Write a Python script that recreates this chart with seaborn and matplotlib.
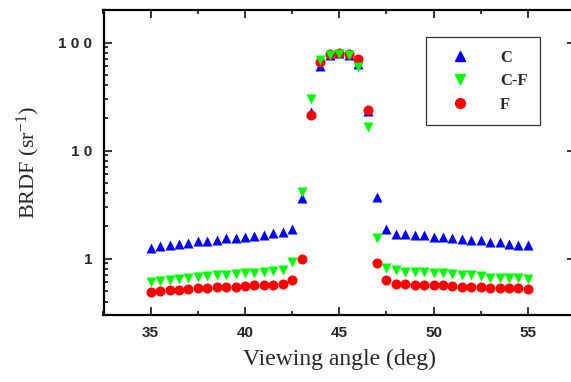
import pandas as pd
import matplotlib.pyplot as plt
import matplotlib.ticker as mticker
from matplotlib.lines import Line2D
import seaborn as sns
import numpy as np

# viewing angles (deg), 35 .. 55 in 0.5 steps
angle = [35.0, 35.5, 36.0, 36.5, 37.0, 37.5, 38.0, 38.5, 39.0, 39.5,
         40.0, 40.5, 41.0, 41.5, 42.0, 42.5, 43.0, 43.5, 44.0, 44.5,
         45.0, 45.5, 46.0, 46.5, 47.0, 47.5, 48.0, 48.5, 49.0, 49.5,
         50.0, 50.5, 51.0, 51.5, 52.0, 52.5, 53.0, 53.5, 54.0, 54.5, 55.0]

brdf_c = [1.25, 1.30, 1.34, 1.37, 1.38, 1.44, 1.46, 1.49, 1.54, 1.55,
          1.58, 1.60, 1.64, 1.71, 1.77, 1.88, 3.62, 22.6, 61.0, 76.0,
          80.0, 77.0, 63.0, 23.0, 3.70, 1.88, 1.70, 1.70, 1.64, 1.64,
          1.58, 1.59, 1.56, 1.53, 1.47, 1.47, 1.42, 1.42, 1.37, 1.33, 1.33]

brdf_cf = [0.600, 0.614, 0.637, 0.641, 0.665, 0.673, 0.688, 0.708, 0.708, 0.717,
           0.733, 0.733, 0.743, 0.760, 0.787, 0.930, 4.16, 30.1, 68.7, 76.9,
           79.0, 77.0, 58.8, 16.5, 1.55, 0.821, 0.780, 0.754, 0.754, 0.754,
           0.728, 0.728, 0.713, 0.710, 0.697, 0.683, 0.665, 0.665, 0.665, 0.665, 0.641]

brdf_f = [0.490, 0.505, 0.508, 0.508, 0.526, 0.530, 0.530, 0.549, 0.549, 0.549,
          0.553, 0.565, 0.565, 0.569, 0.585, 0.627, 0.980, 21.1, 66.7, 78.0,
          80.7, 78.0, 70.2, 23.5, 0.913, 0.627, 0.585, 0.576, 0.565, 0.565,
          0.565, 0.565, 0.556, 0.549, 0.549, 0.549, 0.537, 0.537, 0.530, 0.530, 0.526]

series = ["C", "C-F", "F"]
colors = {"C": "#0000ff", "C-F": "#00ff00", "F": "#ff0000"}
markers = {"C": "^", "C-F": "v", "F": "o"}

df = pd.DataFrame({
    "angle": angle * 3,
    "brdf": brdf_c + brdf_cf + brdf_f,
    "sample": ["C"] * len(angle) + ["C-F"] * len(angle) + ["F"] * len(angle),
})

sns.set_style("ticks")
plt.rcParams['font.family'] = ['Liberation Serif', 'DejaVu Serif']
plt.rcParams['mathtext.fontset'] = 'custom'
plt.rcParams['mathtext.rm'] = 'Liberation Serif'
plt.rcParams['mathtext.it'] = 'Liberation Serif:italic'

fig = plt.figure(figsize=(5.71, 3.82), dpi=100)
ax = fig.add_axes([103.5 / 571, 67 / 382, (575 - 103.5) / 571, 305 / 382])

# draw C, then F, then C-F on top
z = {"C": 2, "F": 3, "C-F": 4}
for s in ["C", "F", "C-F"]:
    sns.scatterplot(data=df[df["sample"] == s], x="angle", y="brdf", ax=ax,
                    color=colors[s], marker=markers[s], s=52, linewidth=0,
                    zorder=z[s], legend=False)

ax.set_yscale("log")
ax.set_xlim(32.5, 57.5)
ax.set_ylim(0.3, 200)

ax.xaxis.set_major_locator(mticker.MultipleLocator(5))
ax.xaxis.set_minor_locator(mticker.MultipleLocator(2.5))
ax.yaxis.set_major_locator(mticker.LogLocator(base=10, numticks=10))
ax.yaxis.set_minor_locator(mticker.LogLocator(base=10, subs=np.arange(2, 10), numticks=20))
ax.yaxis.set_minor_formatter(mticker.NullFormatter())
ax.yaxis.set_major_formatter(mticker.FuncFormatter(
    lambda v, p: " ".join(str(int(round(v)))) if v >= 1 else ""))

ax.tick_params(which="both", direction="in", top=True, right=True, width=1.3)
ax.tick_params(which="major", length=6, labelsize=11, pad=8)
ax.tick_params(which="minor", length=3)
for lab in ax.get_xticklabels() + ax.get_yticklabels():
    lab.set_family("Liberation Sans")
    lab.set_fontweight("bold")
for sp in ax.spines.values():
    sp.set_linewidth(1.6)
    sp.set_color("black")

ax.set_xlabel("Viewing angle (deg)", fontsize=17, labelpad=6)
ax.set_ylabel("BRDF (sr$^{\\mathrm{-1}}$)", fontsize=16, labelpad=12)

handles = [Line2D([], [], linestyle="", marker=markers[s], color=colors[s],
                  markersize=7) for s in series]
leg = ax.legend(handles, series, loc="upper left", bbox_to_anchor=(0.684, 0.911),
                frameon=True, fancybox=False, borderpad=0.75, labelspacing=0.45,
                handlelength=2.6, handletextpad=1.1, borderaxespad=0,
                prop={"family": "Liberation Serif", "weight": "bold", "size": 12})
leg.get_frame().set_edgecolor("black")
leg.get_frame().set_linewidth(0.9)

fig.savefig("out.png", dpi=100)
